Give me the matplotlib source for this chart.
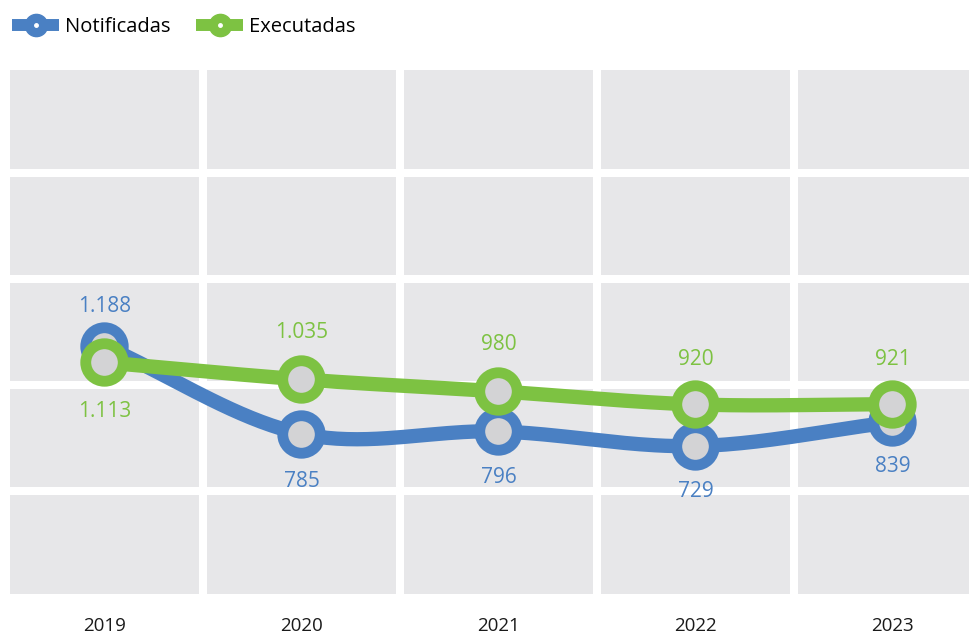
import numpy as np
import matplotlib
matplotlib.use("Agg")
import matplotlib.pyplot as plt
from matplotlib.lines import Line2D

plt.rcParams['font.family'] = ['Open Sans', 'DejaVu Sans']

# data
years = ['2019', '2020', '2021', '2022', '2023']
notificadas = [1188, 785, 796, 729, 839]
executadas = [1113, 1035, 980, 920, 921]
# where each value label sits relative to its marker (pixels, + is up)
notif_dy = [40, -48, -46, -45, -44]
exec_dy = [-49, 47, 47, 45, 45]

BLUE = '#4a80c3'
GREEN = '#7dc242'
CELL = '#e7e7e9'
DOT = '#d3d3d5'


def fmt(v):
    return f"{v:,}".replace(",", ".")


def smooth(xs, ys, n=40):
    # catmull-rom spline through the points, only for drawing the curve
    xs = np.asarray(xs, float)
    ys = np.asarray(ys, float)
    px = np.concatenate([[2 * xs[0] - xs[1]], xs, [2 * xs[-1] - xs[-2]]])
    py = np.concatenate([[2 * ys[0] - ys[1]], ys, [2 * ys[-1] - ys[-2]]])
    outx, outy = [], []
    for i in range(1, len(px) - 2):
        t = np.linspace(0, 1, n)
        for p, out in ((px, outx), (py, outy)):
            p0, p1, p2, p3 = p[i - 1], p[i], p[i + 1], p[i + 2]
            out.extend(0.5 * (2 * p1 + (-p0 + p2) * t
                              + (2 * p0 - 5 * p1 + 4 * p2 - p3) * t ** 2
                              + (-p0 + 3 * p1 - 3 * p2 + p3) * t ** 3))
    return np.array(outx), np.array(outy)


fig = plt.figure(figsize=(9.7, 6.33), dpi=100)
W, H = 970, 633
ax = fig.add_axes([6 / W, (H - 597.5) / H, 985 / W, 531.25 / H])
ax.set_facecolor(CELL)
ax.set_xlim(-0.5, 4.5)
ax.set_ylim(34, 2472)
for s in ax.spines.values():
    s.set_visible(False)

# white grid separating the cells (edges included, half clipped)
for xv in np.arange(-0.5, len(years), 1):
    ax.axvline(xv, color='white', lw=5.8, zorder=1)
for f in np.linspace(0, 1, 6):
    ax.plot([0, 1], [f, f], transform=ax.transAxes, color='white', lw=5.8, zorder=1)

x = np.arange(len(years))
for vals, color, dys, z in ((notificadas, BLUE, notif_dy, 3),
                            (executadas, GREEN, exec_dy, 5)):
    sx, sy = smooth(x, vals)
    ax.plot(sx, sy, color=color, lw=10.3, solid_capstyle='round', zorder=z)
    ax.plot(x, vals, 'o', ms=27, mfc=DOT, mec=color, mew=7.8, zorder=z + 1)
    for xi, v, dy in zip(x, vals, dys):
        ax.annotate(fmt(v), (xi, v), xytext=(0, dy), textcoords='offset pixels',
                    ha='center', va='center', color=color, fontsize=15, zorder=10)

ax.set_xticks(x)
ax.set_xticklabels(years, fontsize=13.5, color='#1a1a1a')
ax.tick_params(axis='x', length=0, pad=14)
ax.set_yticks([])

# legend
handles = []
for color in (BLUE, GREEN):
    handles.append((Line2D([], [], color=color, lw=8.6, solid_capstyle='butt'),
                    Line2D([], [], marker='o', ls='', ms=16, mfc=color, mec=color),
                    Line2D([], [], marker='o', ls='', ms=2.5, mfc='white', mec='white')))
fig.legend(handles, ['Notificadas', 'Executadas'], loc='center left',
           bbox_to_anchor=(12 / W, 1 - 27 / H), frameon=False, ncol=2,
           fontsize=14.5, handlelength=2.35, handletextpad=0.3, columnspacing=1.25,
           borderaxespad=0, borderpad=0)

fig.savefig('out.png', dpi=100)
